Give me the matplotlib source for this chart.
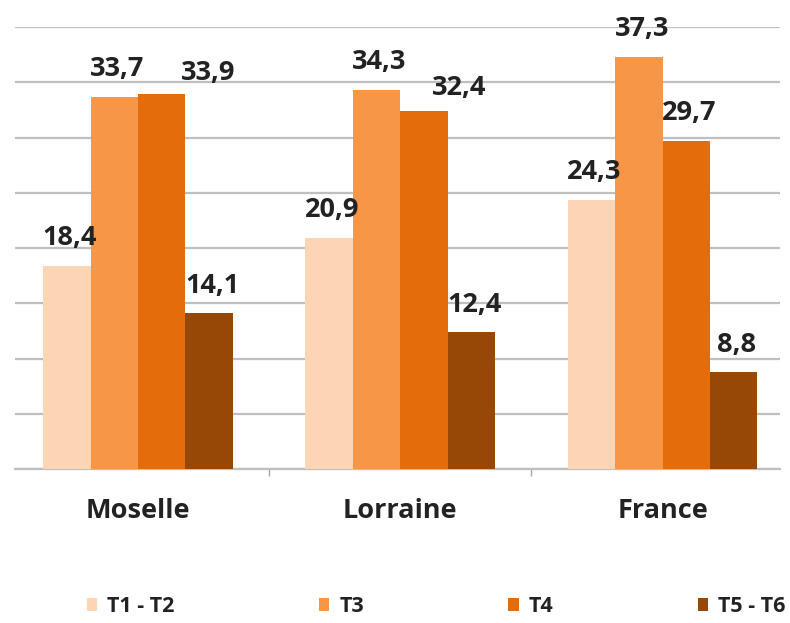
# Diagramme en barres groupees : Moselle, Lorraine, France
import numpy as np
import matplotlib.pyplot as plt

# Donnees
zones = ['Moselle', 'Lorraine', 'France']
series = ['T1 - T2', 'T3', 'T4', 'T5 - T6']
t1_t2 = [18.4, 20.9, 24.3]
t3 = [33.7, 34.3, 37.3]
t4 = [33.9, 32.4, 29.7]
t5_t6 = [14.1, 12.4, 8.8]
couleurs = ['#FCD5B4', '#F79646', '#E46C0A', '#974806']

# decalage des etiquettes (pixels) par serie et par zone, comme dans Excel
decal_x = [[3, 3, 3], [3, 3, 3], [46, 35, 3], [3, 3, 3]]
decal_y = [[21, 21, 21], [21, 21, 21], [14, 16, 21], [20, 20, 20]]

plt.rcParams['font.family'] = ['Open Sans', 'DejaVu Sans']

fig = plt.figure(figsize=(7.9, 6.23), dpi=100)
ax = fig.add_axes([15 / 790, 154 / 623, 765 / 790, 442 / 623])

x = np.arange(len(zones))
largeur = 0.181
valeurs = [t1_t2, t3, t4, t5_t6]
for i, (nom, vals, c) in enumerate(zip(series, valeurs, couleurs)):
    pos = x + (i - 1.5) * largeur
    barres = ax.bar(pos, vals, largeur, color=c, label=nom, zorder=3)
    for j, (b, v) in enumerate(zip(barres, vals)):
        ax.annotate(('%.1f' % v).replace('.', ','),
                    (b.get_x() + b.get_width() / 2, v),
                    xytext=(decal_x[i][j], decal_y[i][j]),
                    textcoords='offset pixels',
                    ha='center', va='baseline', fontsize=19.5,
                    fontweight='bold', color='#222222', zorder=6)

ax.set_ylim(0, 40)
ax.set_xlim(-0.469, 2.448)
ax.set_yticks(np.arange(0, 41, 5))
ax.yaxis.grid(True, color='#BFBFBF', linewidth=1.6, zorder=0)
ax.tick_params(axis='y', left=False, labelleft=False)

# ticks de categorie entre les groupes, labels au centre
ax.set_xticks([0.5, 1.5])
ax.set_xticklabels([])
ax.tick_params(axis='x', length=5, color='#A6A6A6', width=1)
for xi, z in zip(x, zones):
    ax.annotate(z, (xi, 0), xytext=(0, -42), textcoords='offset pixels',
                ha='center', va='center', fontsize=19.5,
                fontweight='bold', color='#222222')

for s in ['top', 'right', 'left']:
    ax.spines[s].set_visible(False)
ax.spines['bottom'].set_color('#BFBFBF')
ax.spines['bottom'].set_linewidth(1.6)

leg = fig.legend(loc='center', ncol=4, frameon=False,
                 handlelength=0.5, handleheight=0.55,
                 handletextpad=0.45, columnspacing=6.7,
                 prop={'size': 15.5, 'weight': 'bold'})
for t in leg.get_texts():
    t.set_color('#222222')
leg.set_bbox_to_anchor((436 / 790, 1 - 607 / 623), transform=fig.transFigure)

fig.savefig('out.png', dpi=100)
